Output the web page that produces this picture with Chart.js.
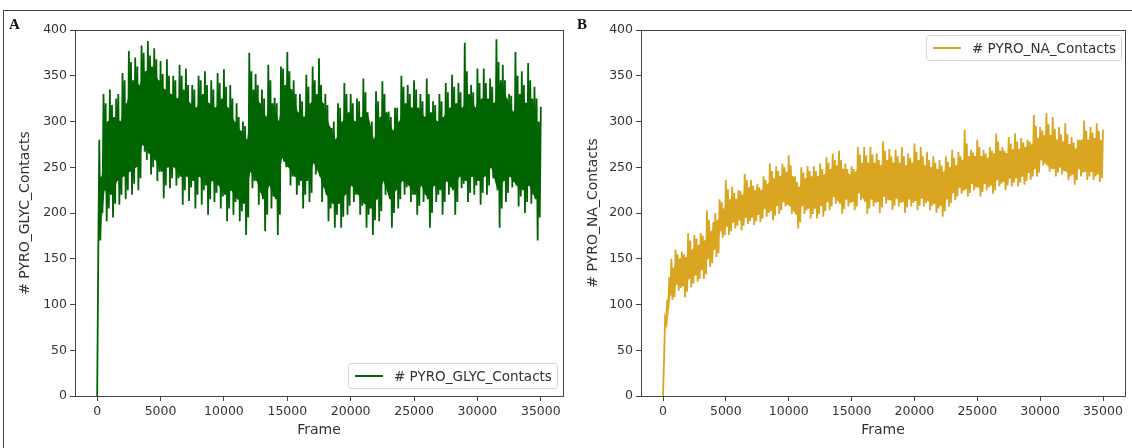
<!DOCTYPE html>
<html>
<head>
<meta charset="utf-8">
<script src="https://cdn.jsdelivr.net/npm/chart.js@4.4.0/dist/chart.umd.min.js"></script>
<style>
    html, body { margin: 0; padding: 0; background: #fff; }
    #page { position: relative; width: 1132px; height: 448px; overflow: hidden; font-family: 'DejaVu Sans', sans-serif; }
    #frame { position: absolute; left: 3px; top: 10px; width: 1140px; height: 450px; border-top: 1px solid #444; border-left: 1px solid #444; }
    .panel { position: absolute; top: 0; height: 448px; }
    .tag { position: absolute; font-family: 'Liberation Serif', 'DejaVu Serif', serif; font-weight: bold; font-size: 15px; color: #111; }
    .legend { position: absolute; border: 1px solid #d6d6d6; border-radius: 3px; background: rgba(255,255,255,0.85);
              font-size: 13.5px; color: #333; display: flex; align-items: center; box-sizing: border-box; padding-left: 6px; }
    .legend .swatch { display: inline-block; width: 28px; height: 2px; margin-right: 11px; }
</style>
</head>
<body>
<div id="page">
    <div id="frame"></div>
    <div class="panel" style="left:0; width:570px;"><canvas id="chart-a" width="570" height="448"></canvas></div>
    <div class="panel" style="left:570px; width:562px;"><canvas id="chart-b" width="562" height="448"></canvas></div>
    <div class="tag" style="left:9px; top:16px;">A</div>
    <div class="tag" style="left:577px; top:16px;">B</div>
    <div class="legend" style="left:348px; top:363px; width:210px; height:26px;">
        <span class="swatch" style="background:#006400;"></span># PYRO_GLYC_Contacts
    </div>
    <div class="legend" style="left:926px; top:35px; width:196px; height:26px;">
        <span class="swatch" style="background:#DAA520;"></span># PYRO_NA_Contacts
    </div>
</div>
<script>
// 坐标轴刻度
const xTicks = [0, 5000, 10000, 15000, 20000, 25000, 30000, 35000];
const yTicks = [0, 50, 100, 150, 200, 250, 300, 350, 400];

// 每 500 帧 6 个读数: 峰值, 密集区下沿, 次峰, 谷值, 密集区上沿, 次谷
// A: 峰值 (帧 0, 500, ... 35000)
const glycPeak = [0, 330, 335, 325, 353, 377, 370, 383, 388, 380,
    366, 368, 350, 362, 358, 340, 350, 355, 345, 353,
    357, 340, 320, 300, 375, 352, 335, 362, 326, 360,
    376, 345, 330, 351, 360, 369, 330, 293, 320, 342,
    330, 325, 347, 295, 333, 344, 311, 315, 350, 340,
    345, 330, 347, 322, 330, 342, 351, 342, 386, 340,
    358, 358, 347, 390, 362, 330, 376, 355, 364, 338,
    316];
const glycCoreLow = [150, 225, 220, 235, 240, 245, 250, 275, 265, 258,
    245, 250, 250, 240, 240, 235, 240, 230, 235, 230,
    220, 225, 215, 210, 245, 235, 215, 230, 215, 260,
    250, 240, 235, 235, 255, 240, 220, 210, 210, 220,
    230, 220, 210, 205, 215, 235, 215, 225, 235, 230,
    220, 230, 215, 230, 225, 235, 225, 240, 235, 240,
    235, 240, 250, 225, 235, 240, 230, 225, 230, 215];
const glycSubPeak = [280, 320, 318, 330, 345, 365, 360, 375, 372, 368,
    352, 350, 345, 350, 340, 335, 345, 340, 335, 342,
    338, 325, 305, 295, 355, 340, 325, 345, 320, 358,
    355, 330, 322, 338, 345, 340, 318, 300, 315, 330,
    320, 322, 332, 300, 322, 330, 305, 315, 338, 330,
    335, 322, 330, 318, 322, 332, 338, 332, 355, 332,
    342, 342, 338, 365, 345, 328, 350, 340, 345, 325];
const glycTrough = [170, 191, 195, 209, 215, 220, 225, 267, 242, 235,
    216, 227, 230, 209, 213, 205, 209, 198, 212, 205,
    191, 198, 191, 176, 227, 209, 180, 205, 176, 256,
    230, 220, 205, 212, 242, 212, 191, 184, 184, 198,
    212, 198, 184, 176, 191, 220, 184, 205, 220, 212,
    198, 212, 184, 212, 198, 220, 198, 227, 212, 220,
    209, 220, 238, 184, 212, 228, 207, 200, 210, 170];
const glycCoreHigh = [240, 300, 305, 300, 320, 345, 340, 355, 360, 345,
    335, 330, 325, 335, 320, 315, 330, 320, 315, 325,
    315, 300, 290, 280, 335, 320, 305, 320, 300, 340,
    335, 310, 305, 320, 330, 320, 295, 280, 300, 310,
    300, 305, 310, 280, 305, 310, 290, 300, 320, 315,
    315, 305, 310, 300, 305, 315, 320, 315, 330, 315,
    325, 325, 320, 345, 325, 310, 330, 320, 325, 300];
const glycSubTrough = [200, 205, 210, 220, 225, 232, 238, 258, 250, 245,
    230, 238, 238, 225, 228, 220, 225, 215, 222, 218,
    205, 212, 202, 195, 235, 222, 198, 218, 198, 250,
    240, 230, 220, 222, 248, 228, 205, 198, 196, 208,
    220, 208, 198, 192, 202, 228, 200, 215, 228, 220,
    208, 220, 200, 220, 212, 228, 212, 232, 222, 230,
    222, 230, 244, 205, 222, 234, 218, 212, 220, 195];

// B
const naPeak = [0, 130, 160, 158, 178, 176, 178, 203, 190, 215,
    236, 229, 225, 243, 236, 232, 240, 254, 251, 254,
    263, 240, 250, 251, 251, 254, 261, 265, 268, 254,
    251, 272, 272, 272, 265, 278, 270, 269, 272, 265,
    276, 272, 267, 262, 258, 262, 269, 267, 291, 269,
    280, 269, 272, 287, 272, 283, 287, 282, 280, 307,
    294, 309, 305, 294, 298, 283, 280, 301, 294, 298,
    291];
const naCoreLow = [40, 110, 122, 120, 128, 132, 138, 150, 160, 180,
    185, 190, 192, 195, 195, 198, 205, 202, 208, 212,
    208, 198, 208, 205, 205, 208, 212, 218, 210, 215,
    212, 222, 212, 215, 212, 218, 214, 216, 212, 215,
    213, 216, 213, 210, 208, 215, 222, 228, 226, 232,
    228, 232, 230, 236, 234, 238, 238, 240, 244, 248,
    258, 252, 248, 250, 245, 242, 248, 245, 245, 242];
const naSubPeak = [85, 150, 155, 155, 170, 172, 175, 192, 200, 212,
    226, 222, 224, 236, 230, 228, 236, 246, 246, 250,
    252, 234, 244, 246, 246, 248, 255, 258, 258, 248,
    248, 264, 263, 264, 258, 268, 262, 262, 262, 260,
    267, 262, 258, 255, 252, 256, 260, 262, 276, 266,
    272, 265, 268, 278, 268, 276, 278, 277, 278, 295,
    290, 297, 292, 286, 286, 277, 280, 290, 288, 290];
const naTrough = [80, 105, 115, 108, 119, 125, 128, 141, 152, 173,
    176, 183, 181, 188, 187, 190, 196, 192, 199, 207,
    199, 183, 199, 194, 194, 196, 203, 210, 199, 207,
    203, 214, 199, 207, 200, 210, 203, 207, 200, 207,
    203, 207, 203, 200, 196, 207, 214, 221, 218, 225,
    218, 225, 221, 229, 225, 229, 229, 231, 236, 240,
    252, 245, 240, 242, 236, 231, 240, 236, 236, 234];
const naCoreHigh = [105, 140, 150, 152, 160, 165, 170, 180, 192, 205,
    215, 215, 220, 228, 225, 225, 232, 238, 240, 245,
    240, 228, 238, 240, 240, 242, 248, 252, 248, 242,
    245, 255, 255, 255, 252, 258, 255, 255, 252, 255,
    258, 252, 250, 248, 245, 250, 252, 258, 262, 262,
    262, 260, 265, 268, 265, 270, 270, 272, 275, 282,
    285, 285, 280, 278, 275, 270, 280, 280, 282, 280];
const naSubTrough = [95, 108, 118, 114, 123, 128, 133, 145, 156, 176,
    180, 186, 186, 191, 191, 194, 200, 197, 203, 209,
    203, 190, 203, 199, 199, 202, 207, 214, 204, 211,
    207, 218, 205, 211, 206, 214, 208, 211, 206, 211,
    208, 211, 208, 205, 202, 211, 218, 224, 222, 228,
    223, 228, 225, 232, 230, 233, 233, 235, 240, 244,
    255, 248, 244, 246, 240, 236, 244, 240, 240, 238];

const blockFrames = 500;

document.addEventListener('DOMContentLoaded', function() {
    createPanel('chart-a',
        [glycPeak, glycCoreLow, glycSubPeak, glycTrough, glycCoreHigh, glycSubTrough], '#006400',
        '# PYRO_GLYC_Contacts', { left: 13, right: 7, yWidth: 62 });
    createPanel('chart-b',
        [naPeak, naCoreLow, naSubPeak, naTrough, naCoreHigh, naSubTrough], '#DAA520',
        '# PYRO_NA_Contacts', { left: 11, right: 7, yWidth: 60 });
});

// 各组读数按帧顺序拼成轨迹
function buildTrace(groups) {
    const pts = [];
    const n = groups[0].length;
    const sub = blockFrames / groups.length;
    for (let i = 0; i < n; i++) {
        groups.forEach((g, j) => {
            if (i < g.length) pts.push({ x: i * blockFrames + j * sub, y: g[i] });
        });
    }
    return pts;
}

// 单组读数, slot 为组内位置
function buildEdge(groups, slot) {
    const sub = blockFrames / groups.length;
    return groups[slot].map((v, i) => ({ x: i * blockFrames + slot * sub, y: v }));
}

// 四边框
const boxPlugin = {
    id: 'box',
    afterDraw(chart) {
        const a = chart.chartArea;
        const ctx = chart.ctx;
        ctx.save();
        ctx.strokeStyle = '#444';
        ctx.lineWidth = 1;
        ctx.strokeRect(Math.round(a.left) + 0.5, Math.round(a.top) + 0.5,
            Math.round(a.right - a.left), Math.round(a.bottom - a.top));
        ctx.restore();
    }
};

function createPanel(id, groups, color, yTitle, lay) {
    const canvas = document.getElementById(id);
    if (!canvas) return;
    const font = { family: 'DejaVu Sans', size: 12.5 };
    const titleFont = { family: 'DejaVu Sans', size: 14 };

    new Chart(canvas, {
        type: 'line',
        data: {
            datasets: [{
                // 密集区上沿
                data: buildEdge(groups, 4),
                borderWidth: 0,
                pointRadius: 0,
                fill: false,
                order: 2
            }, {
                // 密集区下沿, 填充到上沿
                data: buildEdge(groups, 1),
                borderWidth: 0,
                pointRadius: 0,
                backgroundColor: color,
                fill: '-1',
                order: 2
            }, {
                label: yTitle,
                data: buildTrace(groups),
                borderColor: color,
                borderWidth: 1.8,
                pointRadius: 0,
                tension: 0,
                fill: false,
                order: 1
            }]
        },
        options: {
            responsive: false,
            animation: false,
            events: [],
            layout: { padding: { left: lay.left, right: lay.right, top: 30, bottom: 6 } },
            plugins: {
                legend: { display: false },
                tooltip: { enabled: false }
            },
            scales: {
                x: {
                    type: 'linear',
                    min: -1750,
                    max: 36750,
                    afterBuildTicks: function(axis) {
                        axis.ticks = xTicks.map(v => ({ value: v }));
                    },
                    afterFit: function(axis) { axis.height = 46; },
                    grid: { display: true, drawOnChartArea: false, drawTicks: true, tickLength: 5, color: '#444' },
                    border: { display: true, color: '#444' },
                    ticks: { font: font, color: '#333', padding: 3, maxRotation: 0,
                        callback: function(value) { return String(value); } },
                    title: { display: true, text: 'Frame', font: titleFont, color: '#333', padding: 3 }
                },
                y: {
                    min: 0,
                    max: 400,
                    afterBuildTicks: function(axis) {
                        axis.ticks = yTicks.map(v => ({ value: v }));
                    },
                    afterFit: function(axis) { axis.width = lay.yWidth; },
                    grid: { display: true, drawOnChartArea: false, drawTicks: true, tickLength: 5, color: '#444' },
                    border: { display: true, color: '#444' },
                    ticks: { font: font, color: '#333', padding: 3,
                        callback: function(value) { return String(value); } },
                    title: { display: true, text: yTitle, font: titleFont, color: '#333', padding: 4 }
                }
            }
        },
        plugins: [boxPlugin]
    });
}
</script>
</body>
</html>
